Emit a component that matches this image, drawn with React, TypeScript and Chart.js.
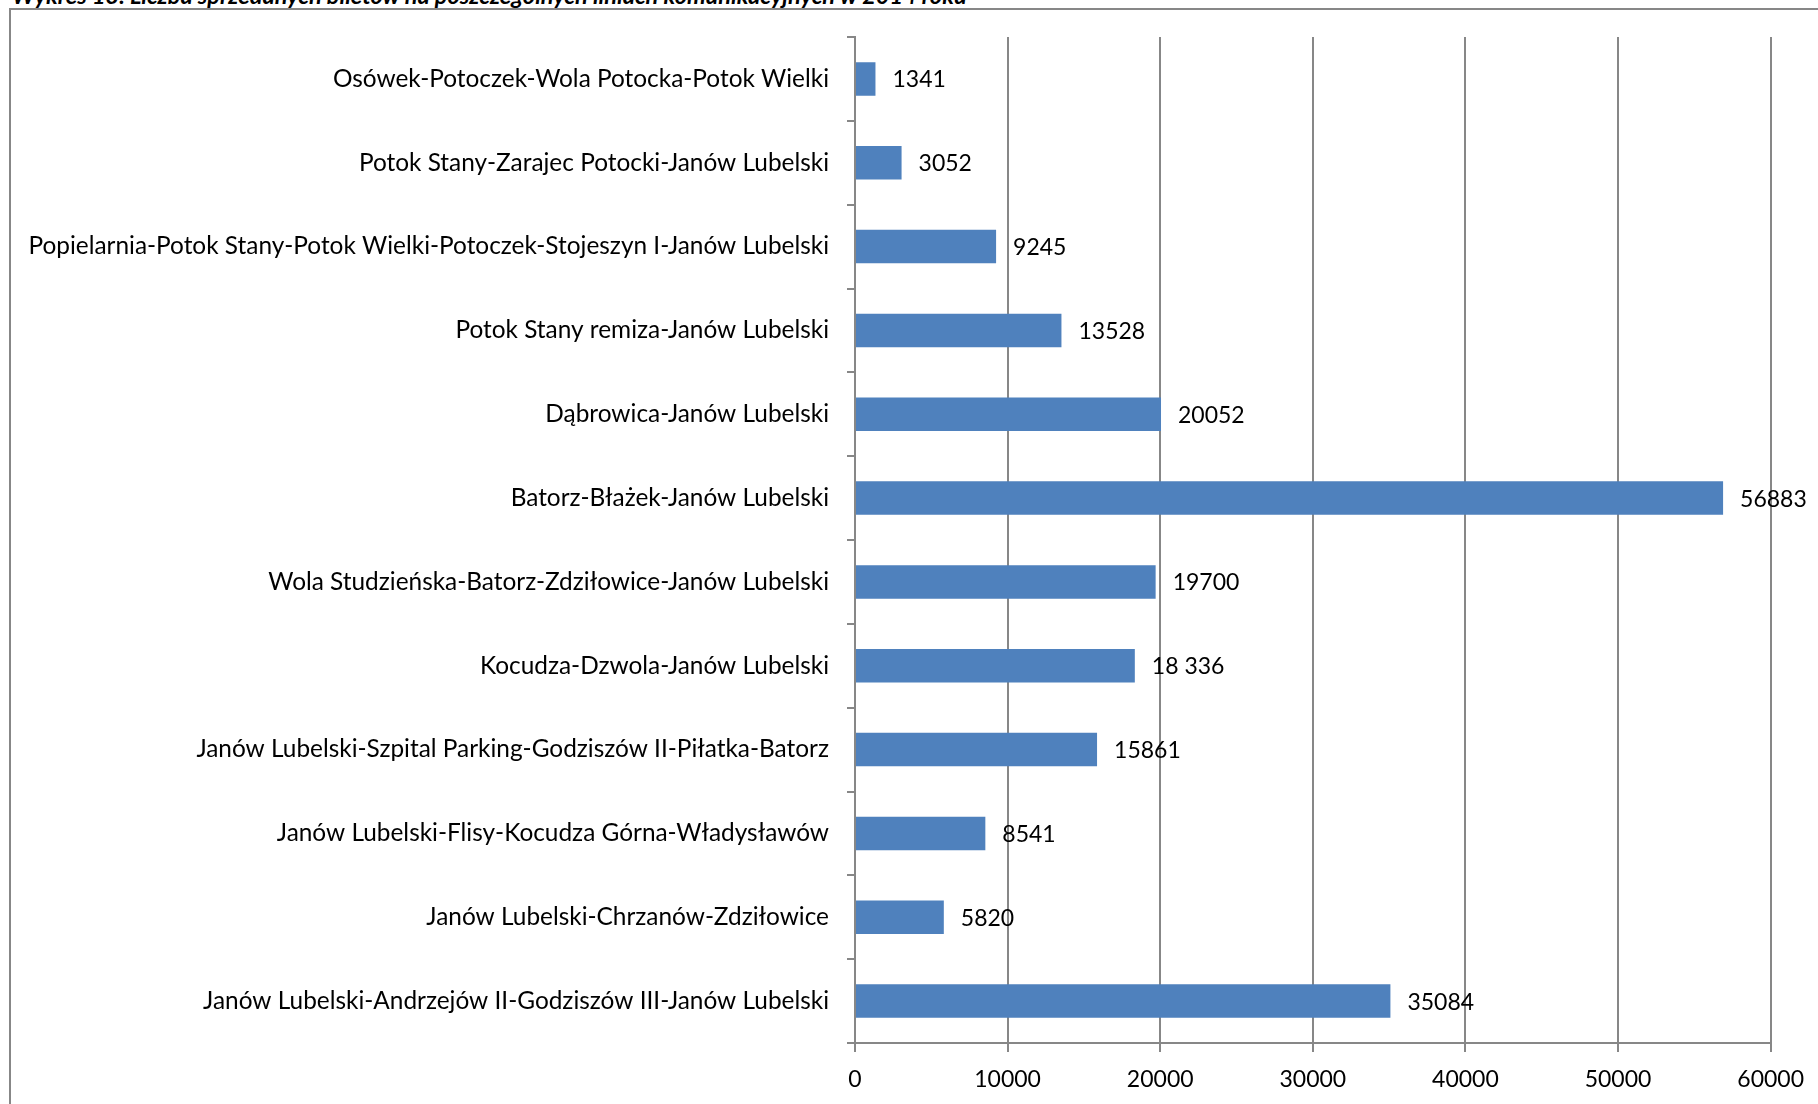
import React, { useEffect, useRef } from "react";
import { Chart, registerables } from "chart.js";

Chart.register(...registerables);

const categories: string[] = [
  "Osówek-Potoczek-Wola Potocka-Potok Wielki",
  "Potok Stany-Zarajec Potocki-Janów Lubelski",
  "Popielarnia-Potok Stany-Potok Wielki-Potoczek-Stojeszyn I-Janów Lubelski",
  "Potok Stany remiza-Janów Lubelski",
  "Dąbrowica-Janów Lubelski",
  "Batorz-Błażek-Janów Lubelski",
  "Wola Studzieńska-Batorz-Zdziłowice-Janów Lubelski",
  "Kocudza-Dzwola-Janów Lubelski",
  "Janów Lubelski-Szpital Parking-Godziszów II-Piłatka-Batorz",
  "Janów Lubelski-Flisy-Kocudza Górna-Władysławów",
  "Janów Lubelski-Chrzanów-Zdziłowice",
  "Janów Lubelski-Andrzejów II-Godziszów III-Janów Lubelski",
];

const values: number[] = [1341, 3052, 9245, 13528, 20052, 56883, 19700, 18336, 15861, 8541, 5820, 35084];

const valueLabels: string[] = [
  "1341", "3052", "9245", "13528", "20052", "56883", "19700", "18 336", "15861", "8541", "5820", "35084",
];

const xTickValues: number[] = [0, 10000, 20000, 30000, 40000, 50000, 60000];

const titleText = "Wykres 13. Liczba sprzedanych biletów na poszczególnych liniach komunikacyjnych w 2014 roku";

const FONT = "Lato";
const GRID = "#878787";

const dataLabelPlugin = {
  id: "dataLabels",
  afterDatasetsDraw(chart: any) {
    const ctx = chart.ctx;
    const meta = chart.getDatasetMeta(0);
    ctx.save();
    ctx.font = `23px ${FONT}`;
    ctx.fillStyle = "#000";
    ctx.textAlign = "left";
    ctx.textBaseline = "middle";
    meta.data.forEach((bar: any, i: number) => {
      ctx.fillText(valueLabels[i], bar.x + 17, bar.y + 1);
    });
    ctx.restore();
  },
};

export default function App() {
  const ref = useRef<HTMLCanvasElement | null>(null);

  useEffect(() => {
    if (!ref.current) return;
    const chart = new Chart(ref.current, {
      type: "bar",
      data: {
        labels: categories,
        datasets: [
          {
            data: values,
            backgroundColor: "#4F81BD",
            borderWidth: 0,
            barPercentage: 0.4,
            categoryPercentage: 1,
          },
        ],
      },
      options: {
        indexAxis: "y",
        responsive: false,
        animation: false,
        devicePixelRatio: 1,
        layout: { padding: { left: 0, top: 37, right: 47, bottom: 0 } },
        plugins: {
          legend: { display: false },
          tooltip: { enabled: false },
          title: { display: false },
        },
        scales: {
          x: {
            type: "linear",
            min: 0,
            max: 60000,
            afterBuildTicks: (scale: any) => {
              scale.ticks = xTickValues.map((v) => ({ value: v }));
            },
            afterFit: (scale: any) => {
              scale.height = 61;
            },
            grid: {
              color: GRID,
              lineWidth: 2,
              tickLength: 9,
              drawTicks: true,
            },
            border: { display: true, color: GRID, width: 2 },
            ticks: {
              color: "#000",
              font: { family: FONT, size: 23 },
              padding: 14,
              maxRotation: 0,
              autoSkip: false,
              callback: (v: any) => String(v),
            },
          },
          y: {
            type: "category",
            afterFit: (scale: any) => {
              scale.width = 855;
            },
            grid: {
              display: true,
              drawOnChartArea: false,
              drawTicks: true,
              tickLength: 8,
              color: GRID,
              lineWidth: 2,
              offset: true,
            },
            border: { display: true, color: GRID, width: 2 },
            ticks: {
              color: "#000",
              font: { family: FONT, size: 24.4 },
              padding: 18,
              autoSkip: false,
            },
          },
        },
      },
      plugins: [dataLabelPlugin],
    });
    return () => chart.destroy();
  }, []);

  return (
    <div
      style={{
        position: "fixed",
        left: 0,
        top: 0,
        width: 1818,
        height: 1104,
        overflow: "hidden",
        background: "#fff",
      }}
    >
      <div
        style={{
          position: "absolute",
          left: 12,
          top: -17,
          whiteSpace: "nowrap",
          fontFamily: FONT,
          fontWeight: 700,
          fontStyle: "italic",
          fontSize: 23.5,
          lineHeight: "24px",
          color: "#000",
        }}
      >
        {titleText}
      </div>
      <div
        style={{
          position: "absolute",
          left: 9,
          top: 8,
          width: 1900,
          height: 1200,
          border: `2px solid ${GRID}`,
        }}
      />
      <canvas
        ref={ref}
        width={1818}
        height={1104}
        style={{ position: "absolute", left: 0, top: 0, width: 1818, height: 1104 }}
      />
    </div>
  );
}
